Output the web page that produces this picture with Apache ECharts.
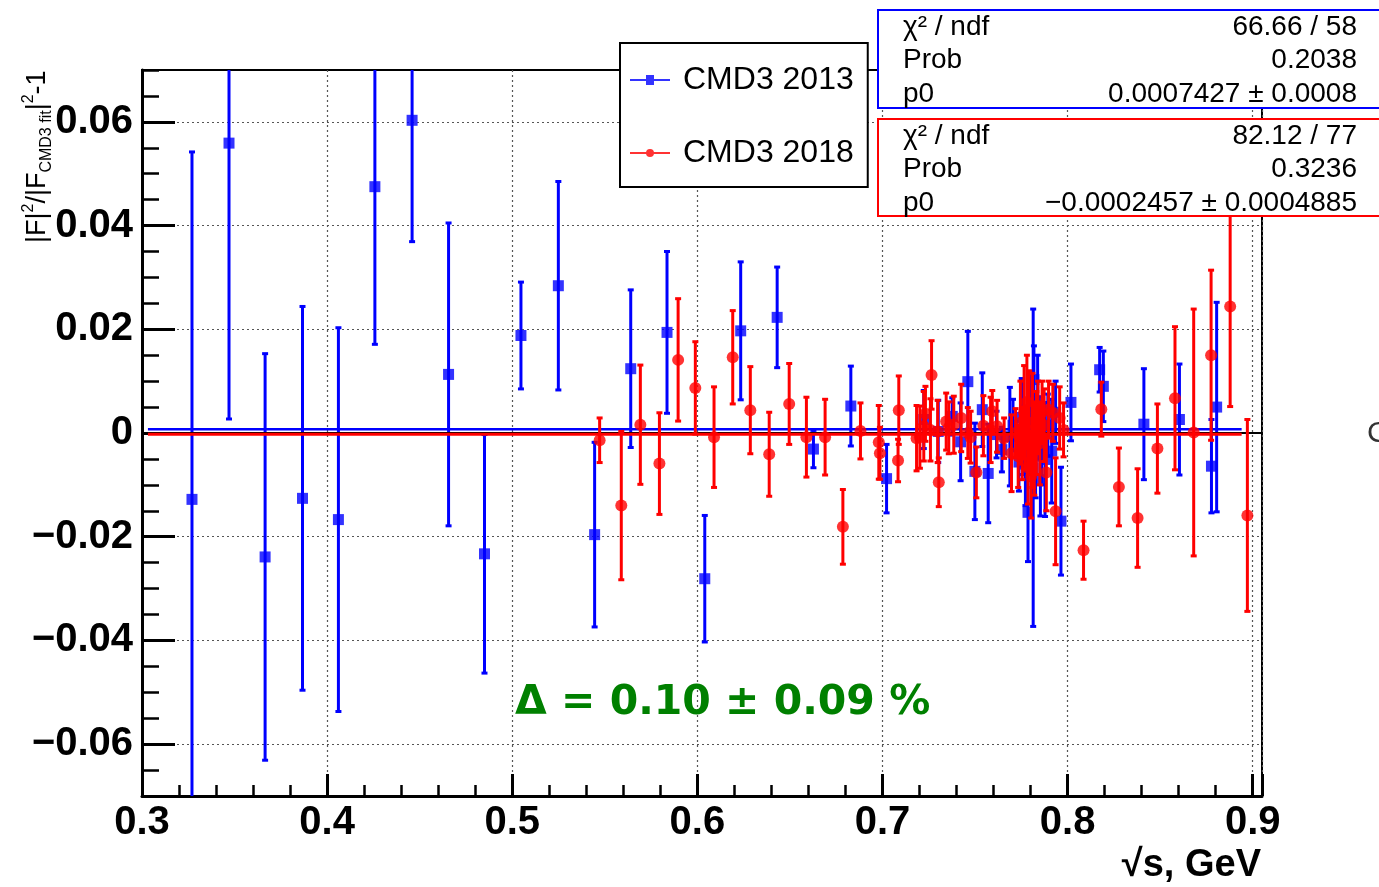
<!DOCTYPE html>
<html>
<head>
<meta charset="utf-8">
<script src="https://cdn.jsdelivr.net/npm/echarts@6/dist/echarts.min.js"></script>
<style>
html,body{margin:0;padding:0;background:#fff;}
#chart{width:1379px;height:887px;}
</style>
</head>
<body>
<div id="chart"></div>
<script>
// ---- data ----
const x2013 = [0.327,0.347,0.3665,0.3867,0.4061,0.4258,0.4459,0.4656,0.485,0.5047,0.5249,0.5445,0.564,0.5836,0.604,0.6234,0.6431,0.6627,0.6829,0.7022,
  0.7223,0.7301,0.7377,0.7422,0.7461,0.7499,0.7539,0.7571,0.7616,0.7645,
  0.7688,0.7705,0.7737,0.7752,0.776,0.7772,0.7786,0.78,0.7814,0.7818,
  0.7827,0.7838,0.7845,0.7853,0.786,0.7878,0.7893,0.7914,0.7935,0.7964,
  0.8018,0.8173,0.8193,0.8412,0.8604,0.8777,0.8805];
const y2013 = [-0.0128,0.0559,-0.0239,-0.0126,-0.0167,0.0475,0.0603,0.0113,-0.0233,0.0188,0.0284,-0.0196,0.0124,0.0194,-0.0281,0.0197,0.0223,-0.0031,0.0052,-0.0088,
  0.0026,0.0003,0.0032,-0.0017,0.0099,-0.0074,0.0045,-0.0078,-0.0003,-0.0032,
  -0.0007,0.0015,-0.0056,0.003,-0.002,-0.006,-0.0153,0.0045,-0.0067,0.0103,
  -0.0045,0.006,0.001,-0.009,-0.002,-0.0051,0.0015,-0.0035,0.004,-0.017,
  0.0059,0.0122,0.009,0.0017,0.0026,-0.0064,0.005];
const e2013 = [0.067,0.0532,0.0392,0.037,0.037,0.0304,0.0234,0.0292,0.023,0.0103,0.0201,0.0178,0.0152,0.0156,0.0122,0.0133,0.0097,0.0036,0.0077,0.0066,
  0.0056,0.006,0.0036,0.0075,0.0097,0.0093,0.0071,0.0095,0.0045,0.0043,
  0.0095,0.005,0.0056,0.0075,0.006,0.008,0.0095,0.007,0.0306,0.0065,
  0.008,0.009,0.006,0.007,0.008,0.011,0.006,0.01,0.006,0.0104,
  0.0074,0.0043,0.0068,0.0107,0.0107,0.009,0.0202];

const x2018 = [0.5472,0.5589,0.5692,0.5795,0.5896,0.5989,0.609,0.6191,0.6286,0.6388,
  0.6496,0.6589,0.669,0.6786,0.6881,0.698,0.6986,0.7084,0.7088,0.7184,
  0.7202,0.7223,0.7232,0.7259,0.7265,0.7298,0.7304,0.7344,0.7358,0.7385,
  0.7425,0.7461,0.7476,0.7507,0.7545,0.7584,0.7593,0.7619,0.7657,0.7697,
  0.7719,0.7733,0.7745,0.7755,0.7765,0.7772,0.778,0.7786,0.7792,0.7803,
  0.781,0.782,0.7831,0.784,0.785,0.7862,0.7873,0.7885,0.7897,0.792,
  0.7935,0.7957,0.7978,0.8086,0.8182,0.8277,0.8378,0.8485,0.858,0.8681,
  0.8775,0.8878,0.8971];
const y2018 = [-0.0014,-0.014,0.0016,-0.0059,0.0141,0.0087,-0.0008,0.0146,0.0044,-0.0041,
  0.0056,-0.0008,-0.0008,-0.0181,0.0004,-0.0018,-0.0039,-0.0053,0.0044,-0.001,
  -0.0008,0.0013,0.0037,0.0006,0.0112,0.0003,-0.0095,0.0022,0.001,0.0016,
  0.0029,0.0,-0.0008,-0.0076,0.0014,0.0006,0.0042,0.0013,-0.001,-0.0039,
  0.0,-0.0045,0.002,-0.002,0.004,-0.001,0.006,-0.0067,0.002,-0.0084,
  0.0005,-0.003,0.0,0.003,-0.002,0.004,0.0015,-0.0076,0.0045,0.0039,
  -0.0151,0.0029,0.0006,-0.0226,0.0046,-0.0104,-0.0164,-0.003,0.0067,0.0001,
  0.015,0.0244,-0.0159];
const e2018 = [0.0043,0.0143,0.0115,0.0098,0.0118,0.0089,0.0097,0.009,0.0084,0.0081,
  0.0078,0.0077,0.0073,0.0072,0.0054,0.0071,0.005,0.0041,0.0066,0.0063,
  0.006,0.0067,0.0053,0.006,0.0066,0.006,0.0047,0.0055,0.005,0.0055,
  0.0065,0.0049,0.005,0.0049,0.0058,0.0063,0.004,0.005,0.0039,0.0074,
  0.0047,0.006,0.008,0.007,0.009,0.006,0.009,0.007,0.01,0.008,
  0.011,0.009,0.008,0.007,0.008,0.006,0.007,0.0074,0.0055,0.0055,
  0.0103,0.006,0.0052,0.0056,0.0052,0.0075,0.0095,0.0086,0.0138,0.0238,
  0.0164,0.0193,0.0185];

const fit2013 = 0.0007427;
const fit2018 = -0.0002457;
const fitRange = [0.3032, 0.894];
const zeroRange = [0.3, 0.9065];

const xTicks = [0.3,0.4,0.5,0.6,0.7,0.8,0.9];
const yTicks = [-0.06,-0.04,-0.02,0,0.02,0.04,0.06];

const seriesNames = ['CMD3 2013','CMD3 2018'];
const stats2013 = [['χ² / ndf','66.66 / 58'],['Prob','0.2038'],['p0','0.0007427 ± 0.0008']];
const stats2018 = [['χ² / ndf','82.12 / 77'],['Prob','0.3236'],['p0','\u22120.0002457 ± 0.0004885']];
const deltaText = 'Δ = 0.10 ± 0.09 %';

// ---- chart ----
const BLUE = '#0000ff', RED = '#ff0000';
const FONT = '"Liberation Sans", Arial, Helvetica, sans-serif';

function zip3(a,b,c){ return a.map((v,i)=>[v,b[i],c[i]]); }

function errRenderer(color, lw){
  return function(params, api){
    const x = api.value(0), y = api.value(1), e = api.value(2);
    const top = api.coord([x, y + e]);
    const bot = api.coord([x, y - e]);
    const cap = 3;
    const style = {stroke: color, lineWidth: lw};
    const cs = params.coordSys;
    return {
      type: 'group',
      clipPath: {type: 'rect', shape: {x: cs.x, y: cs.y, width: cs.width, height: cs.height}},
      children: [
        {type:'line', shape:{x1:top[0], y1:top[1], x2:bot[0], y2:bot[1]}, style: style},
        {type:'line', shape:{x1:top[0]-cap, y1:top[1], x2:top[0]+cap, y2:top[1]}, style: style},
        {type:'line', shape:{x1:bot[0]-cap, y1:bot[1], x2:bot[0]+cap, y2:bot[1]}, style: style}
      ]
    };
  };
}

const chart = echarts.init(document.getElementById('chart'), null, {renderer:'canvas'});

const yLabelFmt = v => Math.abs(v) < 1e-9 ? '0' : (v < 0 ? '\u2212' : '') + Math.abs(v).toFixed(2);

function statGraphics(rows, color, top, h){
  const els = [{
    type:'rect', shape:{x:878, y:top, width:520, height:h},
    style:{fill:'#fff', stroke:color, lineWidth:2}, z:100
  }];
  rows.forEach((r, i) => {
    const yy = top + 17 + i * 33.5;
    els.push({type:'text', x:903, y:yy, z:101,
      style:{text:r[0], font:'28px ' + FONT, fill:'#000', align:'left', verticalAlign:'middle'}});
    els.push({type:'text', x:1357, y:yy, z:101,
      style:{text:r[1], font:'28px ' + FONT, fill:'#000', align:'right', verticalAlign:'middle'}});
  });
  return els;
}

const option = {
  animation: false,
  backgroundColor: '#fff',
  grid: {left:142, top:70, width:1120, height:726, show:true, borderColor:'#000', borderWidth:2, backgroundColor:'transparent'},
  legend: {
    left: 620, top: 43, orient: 'vertical',
    padding: [20, 14, 17, 10],
    itemGap: 39, itemWidth: 40, itemHeight: 10,
    backgroundColor: '#fff', borderColor: '#000', borderWidth: 2,
    selectedMode: false, z: 50,
    textStyle: {fontFamily: FONT, fontSize: 32, color:'#000', lineHeight: 34, padding:[0,0,0,8]},
    data: [
      {name: seriesNames[0], icon: 'path://M0,4 L40,4 L40,6 L0,6 Z M16,0 L24,0 L24,10 L16,10 Z'},
      {name: seriesNames[1], icon: 'path://M0,4 L40,4 L40,6 L0,6 Z M24,5 A4,4 0 1 1 16,5 A4,4 0 1 1 24,5 Z'}
    ]
  },
  xAxis: [
    {type:'value', min:0.3, max:0.905, interval:0.1, position:'bottom',
     axisLine:{show:true, onZero:false, lineStyle:{color:'#000', width:3}},
     axisTick:{show:true, inside:true, length:22, lineStyle:{color:'#000', width:3}},
     axisLabel:{show:true, customValues: xTicks, formatter: v => v.toFixed(1), fontFamily: FONT, fontWeight:'bold', fontSize:40, color:'#000', margin:7},
     splitLine:{show:true, lineStyle:{color:'#555', width:1.2, type:[2,3]}}},
    {type:'value', min:0.3, max:0.905, interval:0.02, position:'bottom',
     axisLine:{show:false, onZero:false},
     axisTick:{show:true, inside:true, length:11, lineStyle:{color:'#000', width:2.5}},
     axisLabel:{show:false}, splitLine:{show:false}}
  ],
  yAxis: [
    {type:'value', min:-0.07, max:0.07, splitNumber:7, position:'left',
     axisLine:{show:true, onZero:false, lineStyle:{color:'#000', width:3}},
     axisTick:{show:true, inside:true, length:33, customValues: yTicks, lineStyle:{color:'#000', width:3}},
     axisLabel:{show:true, customValues: yTicks, formatter: yLabelFmt, fontFamily: FONT, fontWeight:'bold', fontSize:40, color:'#000', margin:9, padding:[4,0,0,0]},
     splitLine:{show:true, lineStyle:{color:'#555', width:1.2, type:[2,3]}}},
    {type:'value', min:-0.07, max:0.07, interval:0.005, position:'left',
     axisLine:{show:false, onZero:false},
     axisTick:{show:true, inside:true, length:17, lineStyle:{color:'#000', width:2.5}},
     axisLabel:{show:false}, splitLine:{show:false}}
  ],
  series: [
    {type:'custom', name:'err2013', renderItem: errRenderer(BLUE, 3), data: zip3(x2013, y2013, e2013), z:2, silent:true},
    {type:'scatter', name: seriesNames[0], data: x2013.map((v,i)=>[v, y2013[i]]), symbol:'rect', symbolSize:11, itemStyle:{color:BLUE}, z:3, silent:true},
    {type:'line', name:'zero', data: zeroRange.map(v=>[v,0]), showSymbol:false, symbol:'none', clip:false, lineStyle:{color:'#000', width:2}, z:4, silent:true},
    {type:'line', name:'fit2013', data: fitRange.map(v=>[v,fit2013]), showSymbol:false, symbol:'none', lineStyle:{color:BLUE, width:2.5}, z:4, silent:true},
    {type:'line', name:'fit2018', data: fitRange.map(v=>[v,fit2018]), showSymbol:false, symbol:'none', lineStyle:{color:RED, width:3}, z:4, silent:true},
    {type:'custom', name:'err2018', renderItem: errRenderer(RED, 3), data: zip3(x2018, y2018, e2018), z:5, silent:true},
    {type:'scatter', name: seriesNames[1], data: x2018.map((v,i)=>[v, y2018[i]]), symbol:'circle', symbolSize:12, itemStyle:{color:RED}, z:6, silent:true}
  ],
  graphic: [
    ...statGraphics(stats2013, BLUE, 10, 98),
    ...statGraphics(stats2018, RED, 119, 97),
    {type:'text', x:515, y:703, z:60,
     style:{text: deltaText, font:'bold 41px "DejaVu Sans", sans-serif', fill:'#008000', align:'left', verticalAlign:'middle'}},
    {type:'text', x:1261, y:866, z:60,
     style:{text:'√s, GeV', font:'bold 38px ' + FONT, fill:'#000', align:'right', verticalAlign:'middle'}},
    {type:'text', x:38, y:243, rotation: Math.PI/2, z:60,
     style:{text:'|F|{sup|2}/|F{sub|CMD3 fit}|{sup|2}-1', font:'27px ' + FONT, fill:'#000', align:'left', verticalAlign:'middle', lineHeight:34,
       rich:{sup:{fontSize:16, fontFamily: FONT, verticalAlign:'top', lineHeight:34}, sub:{fontSize:16, fontFamily: FONT, verticalAlign:'bottom', lineHeight:34}}}},
    {type:'text', x:1367, y:434, z:60,
     style:{text:'C', font:'30px ' + FONT, fill:'#333', align:'left', verticalAlign:'middle'}}
  ]
};

chart.setOption(option);
</script>
</body>
</html>
